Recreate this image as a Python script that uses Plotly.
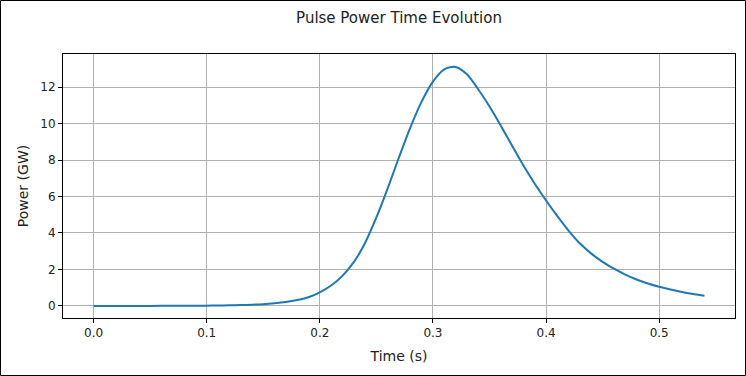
import plotly.graph_objects as go

time_s = [0.00, 0.02, 0.04, 0.06, 0.08, 0.10, 0.11, 0.12, 0.13, 0.14,
          0.15, 0.16, 0.17, 0.18, 0.19, 0.20, 0.21, 0.22, 0.23, 0.24,
          0.25, 0.26, 0.27, 0.28, 0.29, 0.30, 0.31, 0.32, 0.33, 0.34,
          0.35, 0.36, 0.37, 0.38, 0.39, 0.40, 0.41, 0.42, 0.43, 0.44,
          0.45, 0.46, 0.47, 0.48, 0.49, 0.50, 0.51, 0.52, 0.53, 0.54]
power_gw = [0.000, 0.000, 0.002, 0.005, 0.010, 0.018, 0.025, 0.035, 0.050, 0.070,
            0.10, 0.15, 0.22, 0.33, 0.48, 0.75, 1.12, 1.65, 2.40, 3.45,
            4.85, 6.45, 8.15, 9.78, 11.20, 12.30, 12.97, 13.10, 12.70, 11.88,
            10.93, 9.88, 8.78, 7.70, 6.70, 5.78, 4.92, 4.12, 3.42, 2.87,
            2.42, 2.04, 1.72, 1.45, 1.23, 1.05, 0.90, 0.77, 0.66, 0.56]
x_ticks = [0.0, 0.1, 0.2, 0.3, 0.4, 0.5]
y_ticks = [0, 2, 4, 6, 8, 10, 12]

FONT = "DejaVu Sans"
W, H = 746, 376
L, R, T, B = 63, 11, 54, 58
pw, ph = W - L - R, H - T - B

fig = go.Figure()
fig.add_trace(go.Scatter(x=time_s, y=power_gw, mode="lines",
                         line=dict(color="#1f77b4", width=2, shape="spline", smoothing=0.8),
                         showlegend=False, hoverinfo="skip"))

axis_common = dict(showgrid=True, gridcolor="#b0b0b0", gridwidth=0.8,
                   showline=True, linecolor="black", linewidth=1, mirror=True,
                   ticks="outside", ticklen=4, tickwidth=1, tickcolor="black",
                   zeroline=False, tickfont=dict(family=FONT, size=12, color="#222"))

fig.update_layout(
    width=W, height=H,
    margin=dict(l=L, r=R, t=T, b=B),
    paper_bgcolor="white", plot_bgcolor="white",
    title=dict(text="Pulse Power Time Evolution", x=0.5, xref="paper",
               y=1 - 18 / H, yanchor="middle",
               font=dict(family=FONT, size=15, color="#222")),
    xaxis=dict(range=[-0.027, 0.567], tickvals=x_ticks,
               ticktext=[f"{v:.1f}" for v in x_ticks],
               title=dict(text="Time (s)", font=dict(family=FONT, size=14, color="#222"), standoff=11),
               **axis_common),
    yaxis=dict(range=[-0.66, 13.81], tickvals=y_ticks,
               title=dict(text="Power (GW)", font=dict(family=FONT, size=14, color="#222"), standoff=8),
               **axis_common),
    shapes=[dict(type="rect", xref="paper", yref="paper",
                 x0=(0.5 - L) / pw, x1=(745.5 - L) / pw,
                 y0=-(375.5 - (H - B)) / ph, y1=1 + (T - 0.5) / ph,
                 line=dict(color="black", width=1), fillcolor="rgba(0,0,0,0)", layer="above")],
)

fig.write_html("out.html", config={"displayModeBar": False},
               post_script="document.body.style.margin='0';document.body.style.overflow='hidden';")
